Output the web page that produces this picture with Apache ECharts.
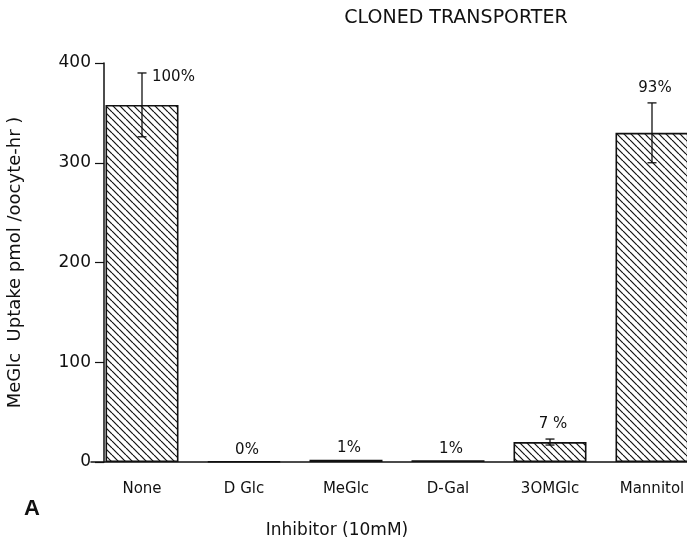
<!DOCTYPE html>
<html>
<head>
<meta charset="utf-8">
<script src="https://cdn.jsdelivr.net/npm/echarts@6/dist/echarts.min.js"></script>
<style>html,body{margin:0;padding:0;background:#fff}#c{width:687px;height:543px}</style>
</head>
<body>
<div id="c"></div>
<script>
const categories = ['None', 'D Glc', 'MeGlc', 'D-Gal', '3OMGlc', 'Mannitol'];
const uptake = [358, 0.6, 2.2, 1.8, 20, 330];
const errors = [32, 0, 0, 0, 3, 30];
const pctLabels = ['100%', '0%', '1%', '1%', '7 %', '93%'];
const yTicks = [0, 100, 200, 300, 400];

const FONT = 'DejaVu Sans';
const INK = '#111';

function hatch() {
  const s = 7;
  const cv = document.createElement('canvas');
  cv.width = s; cv.height = s;
  const ctx = cv.getContext('2d');
  ctx.fillStyle = '#fff';
  ctx.fillRect(0, 0, s, s);
  ctx.strokeStyle = '#111';
  ctx.lineWidth = 1.2;
  for (const k of [-s, 0, s]) {
    ctx.beginPath();
    ctx.moveTo(k, 0);
    ctx.lineTo(k + s, s);
    ctx.stroke();
  }
  return cv;
}

const chart = echarts.init(document.getElementById('c'), null, { renderer: 'canvas' });
const errData = categories.map((c, i) => [i, uptake[i], errors[i]]);

chart.setOption({
  backgroundColor: '#fff',
  animation: false,
  grid: { left: 91, width: 612, top: 63, bottom: 81, containLabel: false, outerBoundsMode: 'none' },
  graphic: [
    { type: 'text', x: 456, y: 18, style: { text: 'CLONED TRANSPORTER', font: '19px "DejaVu Sans"', fill: INK, textAlign: 'center', textVerticalAlign: 'middle' } },
    { type: 'text', x: 337, y: 531, style: { text: 'Inhibitor (10mM)', font: '17px "DejaVu Sans"', fill: INK, textAlign: 'center', textVerticalAlign: 'middle' } },
    { type: 'text', x: 32, y: 509, style: { text: 'A', font: 'bold 22px "Liberation Sans"', fill: INK, textAlign: 'center', textVerticalAlign: 'middle' } }
  ],
  xAxis: {
    type: 'category',
    data: categories,
    axisLine: { lineStyle: { color: INK, width: 1.5 } },
    axisTick: { alignWithLabel: true, length: 6, lineStyle: { color: INK, width: 1.2 } },
    axisLabel: { color: INK, fontFamily: FONT, fontSize: 15, margin: 20 }
  },
  yAxis: {
    type: 'value',
    min: yTicks[0], max: yTicks[yTicks.length - 1], interval: 100,
    offset: -13,
    name: 'MeGlc  Uptake pmol /oocyte-hr )',
    nameLocation: 'middle',
    nameGap: 80,
    nameTextStyle: { color: INK, fontFamily: FONT, fontSize: 18 },
    splitLine: { show: false },
    axisLine: { show: true, lineStyle: { color: INK, width: 1.5 } },
    axisTick: { show: true, length: 9, lineStyle: { color: INK, width: 1.2 } },
    axisLabel: { color: INK, fontFamily: FONT, fontSize: 17, margin: 13 }
  },
  series: [
    {
      type: 'bar',
      data: uptake,
      barWidth: 73,
      itemStyle: { color: { image: hatch(), repeat: 'repeat' }, borderColor: INK, borderWidth: 1.6 }
    },
    {
      type: 'custom',
      data: errData,
      encode: { x: 0, y: 1 },
      z: 5,
      renderItem: function (params, api) {
        const i = api.value(0);
        const v = api.value(1);
        const e = api.value(2);
        const txt = pctLabels[params.dataIndex];
        const top = api.coord([i, v + e]);
        const bot = api.coord([i, v - e]);
        const children = [];
        const lw = { stroke: INK, lineWidth: 1.3 };
        if (e > 0) {
          const h = 4.5;
          children.push({ type: 'line', shape: { x1: top[0], y1: top[1], x2: bot[0], y2: bot[1] }, style: lw });
          children.push({ type: 'line', shape: { x1: top[0] - h, y1: top[1], x2: top[0] + h, y2: top[1] }, style: lw });
          children.push({ type: 'line', shape: { x1: bot[0] - h, y1: bot[1], x2: bot[0] + h, y2: bot[1] }, style: lw });
        }
        if (params.dataIndex === 0) {
          children.push({ type: 'text', style: { text: txt, x: top[0] + 10, y: top[1] + 4, font: '15px "DejaVu Sans"', fill: INK, textAlign: 'left', textVerticalAlign: 'middle' } });
        } else {
          const gap = e > 0 ? 7 : 4;
          children.push({ type: 'text', style: { text: txt, x: top[0] + 3, y: top[1] - gap, font: '15px "DejaVu Sans"', fill: INK, textAlign: 'center', textVerticalAlign: 'bottom' } });
        }
        return { type: 'group', children: children };
      }
    }
  ]
});
</script>
</body>
</html>
